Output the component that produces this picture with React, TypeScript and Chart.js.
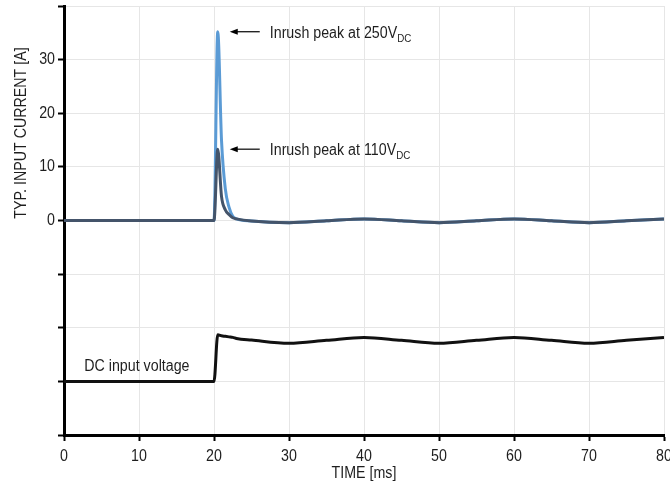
import React, { useEffect, useRef } from "react";
import { Chart, registerables } from "chart.js";

Chart.register(...registerables);

// ---- data ----
const timeMs = [0, 20, 20.5, 21, 21.5, 22, 22.5, 23, 25, 30, 35, 40, 45, 50, 55, 60, 65, 70, 75, 80];
const current250V = [0, 0, 35.2, 15, 6, 2.5, 0.8, 0.3, -0.1, -0.4, -0.05, 0.3, -0.05, -0.4, -0.05, 0.3, -0.05, -0.4, -0.05, 0.3];
const current110V = [0, 0, 13.3, 4.5, 2, 1.1, 0.5, 0.3, -0.1, -0.4, -0.05, 0.3, -0.05, -0.4, -0.05, 0.3, -0.05, -0.4, -0.05, 0.3];
const dcVoltage = [-30, -30, -21.3, -21.5, -21.6, -21.7, -21.8, -22.0, -22.3, -22.9, -22.35, -21.8, -22.35, -22.9, -22.35, -21.8, -22.35, -22.9, -22.35, -21.8];
const labeledYTicks = [0, 10, 20, 30];

const xTitle = "TIME [ms]";
const yTitle = "TYP. INPUT CURRENT [A]";
const annotations = [
  { text: "Inrush peak at 250V", sub: "DC", x: 22.1, y: 35.2 },
  { text: "Inrush peak at 110V", sub: "DC", x: 22.1, y: 13.3 },
];
const voltageLabel = { text: "DC input voltage", x: 2.7, y: -27.2 };

const FONT = "'Liberation Sans', Arial, sans-serif";
const TEXT = "#1e1e1e";
const SQUEEZE = 0.89;

const toPts = (ys: number[]) => timeMs.map((t, i) => ({ x: t, y: ys[i] }));

function narrowText(ctx: any, text: string, x: number, y: number, align: "left" | "center" | "right") {
  ctx.save();
  ctx.translate(x, y);
  ctx.scale(SQUEEZE, 1);
  ctx.textAlign = align;
  ctx.fillText(text, 0, 0);
  ctx.restore();
}

const overlay = {
  id: "overlay",
  afterDraw(chart: any) {
    const { ctx, scales } = chart;
    const xs = scales.x;
    const ys = scales.y;
    ctx.save();
    ctx.fillStyle = TEXT;
    ctx.strokeStyle = "#000";
    ctx.font = `16px ${FONT}`;

    // tick labels
    ctx.textBaseline = "middle";
    for (const t of xs.ticks) {
      narrowText(ctx, String(t.value), xs.getPixelForValue(t.value), 457, "center");
    }
    for (const t of ys.ticks) {
      if (!labeledYTicks.includes(t.value)) continue;
      narrowText(ctx, String(t.value), 55, ys.getPixelForValue(t.value), "right");
    }

    // y title
    ctx.save();
    ctx.translate(22, ys.getPixelForValue(16.3));
    ctx.rotate(-Math.PI / 2);
    ctx.scale(SQUEEZE, 1);
    ctx.textAlign = "center";
    ctx.textBaseline = "middle";
    ctx.fillText(yTitle, 0, 0);
    ctx.restore();

    // x title
    ctx.textBaseline = "middle";
    narrowText(ctx, xTitle, xs.getPixelForValue(40), 474, "center");

    // annotations
    for (const a of annotations) {
      const px = xs.getPixelForValue(a.x);
      const py = ys.getPixelForValue(a.y);
      ctx.lineWidth = 1.2;
      ctx.beginPath();
      ctx.moveTo(px + 4, py);
      ctx.lineTo(px + 30, py);
      ctx.stroke();
      ctx.beginPath();
      ctx.moveTo(px, py);
      ctx.lineTo(px + 8, py - 3);
      ctx.lineTo(px + 8, py + 3);
      ctx.closePath();
      ctx.fillStyle = "#000";
      ctx.fill();
      ctx.fillStyle = TEXT;
      ctx.font = `16px ${FONT}`;
      ctx.textBaseline = "alphabetic";
      const tx = px + 40;
      const ty = py + 6;
      narrowText(ctx, a.text, tx, ty, "left");
      const w = ctx.measureText(a.text).width * SQUEEZE;
      ctx.font = `11px ${FONT}`;
      narrowText(ctx, a.sub, tx + w, ty + 4, "left");
    }

    // voltage label
    ctx.font = `16px ${FONT}`;
    ctx.textBaseline = "middle";
    narrowText(ctx, voltageLabel.text, xs.getPixelForValue(voltageLabel.x), ys.getPixelForValue(voltageLabel.y), "left");
    ctx.restore();
  },
};

export default function App() {
  const ref = useRef<HTMLCanvasElement | null>(null);
  useEffect(() => {
    if (!ref.current) return;
    const chart = new Chart(ref.current, {
      type: "line",
      data: {
        datasets: [
          {
            data: toPts(current110V),
            borderColor: "#44546a",
            borderWidth: 3,
            pointRadius: 0,
            cubicInterpolationMode: "monotone",
            order: 1,
          },
          {
            data: toPts(current250V),
            borderColor: "#5b9bd5",
            borderWidth: 3,
            pointRadius: 0,
            cubicInterpolationMode: "monotone",
            order: 2,
          },
          {
            data: toPts(dcVoltage),
            borderColor: "#111",
            borderWidth: 3,
            pointRadius: 0,
            cubicInterpolationMode: "monotone",
            order: 0,
          },
        ],
      },
      options: {
        animation: false,
        responsive: false,
        maintainAspectRatio: false,
        layout: { padding: { top: 6, right: 6, left: 0, bottom: 0 } },
        plugins: { legend: { display: false }, tooltip: { enabled: false } },
        scales: {
          x: {
            type: "linear",
            min: 0,
            max: 80,
            ticks: { stepSize: 10, display: false },
            grid: { color: "#e6e6e6", tickColor: "#000", tickLength: 6, tickWidth: 2 },
            border: { color: "#000", width: 3 },
            afterFit: (s: any) => {
              s.height = 53;
              s.paddingLeft = 0;
              s.paddingRight = 0;
            },
          },
          y: {
            type: "linear",
            min: -40,
            max: 40,
            ticks: { stepSize: 10, display: false },
            grid: { color: "#e6e6e6", tickColor: "#000", tickLength: 6, tickWidth: 2 },
            border: { color: "#000", width: 3 },
            afterFit: (s: any) => {
              s.width = 64;
              s.paddingTop = 0;
              s.paddingBottom = 0;
            },
          },
        },
      },
      plugins: [overlay],
    } as any);
    return () => chart.destroy();
  }, []);
  return (
    <div style={{ position: "fixed", left: 0, top: 0, width: 670, height: 488, background: "#fff" }}>
      <canvas ref={ref} width={670} height={488} style={{ width: 670, height: 488, display: "block" }} />
    </div>
  );
}
